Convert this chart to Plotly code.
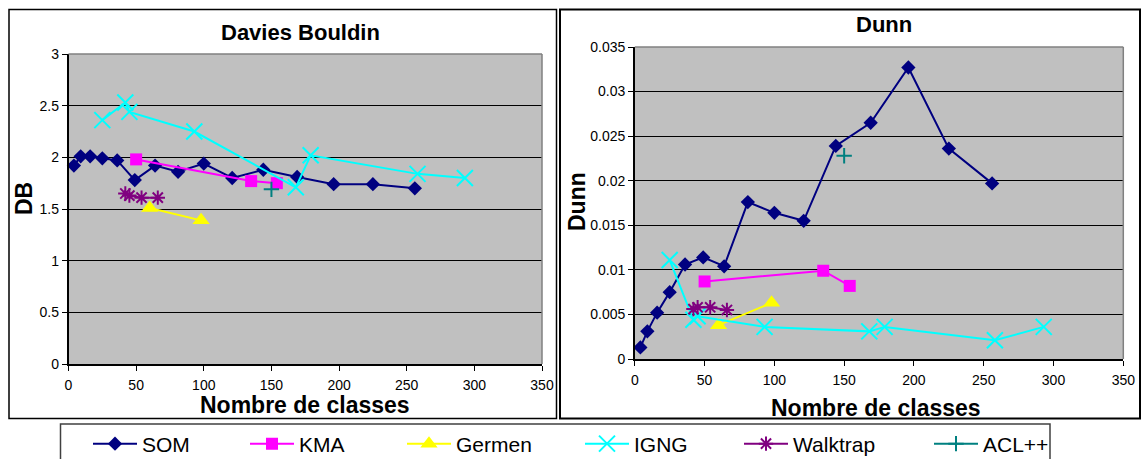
import plotly.graph_objects as go

# ---------------- data ----------------
x_som = [4, 9, 16, 25, 36, 49, 64, 81, 100, 121, 144, 169, 196, 225, 256]
db_som = [1.92, 2.01, 2.01, 1.99, 1.97, 1.78, 1.92, 1.86, 1.94, 1.80, 1.88, 1.81, 1.74, 1.74, 1.70]
dunn_som = [0.0013, 0.0031, 0.0052, 0.0075, 0.0106, 0.0114, 0.0104, 0.0176, 0.0164,
            0.0155, 0.0239, 0.0265, 0.0327, 0.0236, 0.0197]

x_kma = [50, 135, 154]
db_kma = [1.98, 1.77, 1.75]
dunn_kma = [0.0087, 0.0099, 0.0082]

x_germen = [60, 98]
db_germen = [1.51, 1.39]
dunn_germen = [0.0038, 0.0063]

x_igng = [25, 42, 45, 93, 168, 179, 258, 293]
db_igng = [2.36, 2.53, 2.44, 2.25, 1.71, 2.02, 1.84, 1.80]
dunn_igng = [0.0111, 0.0044, 0.0048, 0.0036, 0.0031, 0.0036, 0.0021, 0.0036]

x_walktrap = [42, 45, 54, 66]
db_walktrap = [1.65, 1.63, 1.61, 1.61]
dunn_walktrap = [0.0056, 0.0058, 0.0058, 0.0055]

x_acl = [150]
db_acl = [1.69]
dunn_acl = [0.0228]

names = ["SOM", "KMA", "Germen", "IGNG", "Walktrap", "ACL++"]
x_ticks = [0, 50, 100, 150, 200, 250, 300, 350]
db_ticks = [0, 0.5, 1, 1.5, 2, 2.5, 3]
dunn_ticks = [0, 0.005, 0.01, 0.015, 0.02, 0.025, 0.03, 0.035]
dunn_tick_text = ["0", "0.005", "0.01", "0.015", "0.02", "0.025", "0.03", "0.035"]

# ---------------- layout helpers ----------------
W, H = 1141, 459


def px(v):
    return v / W


def py(v):
    return 1 - v / H


FONT = "Liberation Sans, Arial, sans-serif"

styles = {
    "SOM": dict(color="#000080", symbol="diamond", size=11, lw=2, mlw=0),
    "KMA": dict(color="#FF00FF", symbol="square", size=12, lw=2, mlw=0),
    "Germen": dict(color="#FFFF00", symbol="triangle-up", size=15, lw=2, mlw=0),
    "IGNG": dict(color="#00FFFF", symbol="x-thin-open", size=16, lw=2, mlw=2),
    "Walktrap": dict(color="#800080", symbol="asterisk-open", size=12, lw=2, mlw=2),
    "ACL++": dict(color="#008080", symbol="cross-thin-open", size=11, lw=2, mlw=2),
}

data = {
    "SOM": (x_som, db_som, dunn_som),
    "KMA": (x_kma, db_kma, dunn_kma),
    "Germen": (x_germen, db_germen, dunn_germen),
    "IGNG": (x_igng, db_igng, dunn_igng),
    "Walktrap": (x_walktrap, db_walktrap, dunn_walktrap),
    "ACL++": (x_acl, db_acl, dunn_acl),
}

legend_text_start = {"SOM": 135, "KMA": 292, "Germen": 449, "IGNG": 627, "Walktrap": 786, "ACL++": 976}
legend_ids = ["legend", "legend2", "legend3", "legend4", "legend5", "legend6"]

fig = go.Figure()
for i, name in enumerate(names):
    st = styles[name]
    xs, dbv, dnv = data[name]
    mk = dict(symbol=st["symbol"], size=st["size"], color=st["color"],
              line=dict(width=st["mlw"], color=st["color"]))
    fig.add_trace(go.Scatter(x=xs, y=dbv, name=name, mode="lines+markers",
                             line=dict(color=st["color"], width=st["lw"]),
                             marker=mk, xaxis="x", yaxis="y",
                             legend=legend_ids[i], showlegend=True, cliponaxis=False))
    fig.add_trace(go.Scatter(x=xs, y=dnv, name=name, mode="lines+markers",
                             line=dict(color=st["color"], width=st["lw"]),
                             marker=mk, xaxis="x2", yaxis="y2",
                             showlegend=False, cliponaxis=False))

axis_common = dict(showline=True, linecolor="black", linewidth=1.5, ticks="outside",
                   ticklen=5, tickcolor="black", tickwidth=1, zeroline=False,
                   tickfont=dict(family=FONT, size=14, color="black"), fixedrange=True)

layout = dict(
    width=W, height=H, margin=dict(l=0, r=0, t=0, b=0, pad=0, autoexpand=False),
    paper_bgcolor="white", plot_bgcolor="#C0C0C0",
    font=dict(family=FONT, color="black"),
    xaxis=dict(domain=[px(68.5), px(542)], range=[0, 350], tickvals=x_ticks,
               showgrid=False, anchor="y", ticklabelstandoff=2, **axis_common),
    yaxis=dict(domain=[py(364), py(54)], range=[0, 3], tickvals=db_ticks,
               showgrid=True, gridcolor="black", gridwidth=1, anchor="x", **axis_common),
    xaxis2=dict(domain=[px(634.8), px(1123.3)], range=[0, 350], tickvals=x_ticks,
                showgrid=False, anchor="y2", ticklabelstandoff=2, **axis_common),
    yaxis2=dict(domain=[py(359), py(47)], range=[0, 0.035], tickvals=dunn_ticks,
                ticktext=dunn_tick_text, showgrid=True, gridcolor="black", gridwidth=1,
                anchor="x2", **axis_common),
)

for i, name in enumerate(names):
    layout[legend_ids[i]] = dict(
        x=px(legend_text_start[name] - 47), y=py(444), xanchor="left", yanchor="middle",
        orientation="h", bgcolor="rgba(0,0,0,0)", borderwidth=0, itemwidth=44,
        font=dict(family=FONT, size=21, color="black"), itemclick=False, itemdoubleclick=False)

fig.update_layout(**layout)

# plot-area frames (grey top/right edges, Excel style)
for (l, r, t, b) in ((68.5, 542, 54, 364), (634.8, 1123.3, 47, 359)):
    fig.add_shape(type="line", xref="paper", yref="paper", x0=px(l), x1=px(r),
                  y0=py(t), y1=py(t), line=dict(color="#808080", width=1.5))
    fig.add_shape(type="line", xref="paper", yref="paper", x0=px(r), x1=px(r),
                  y0=py(t), y1=py(b), line=dict(color="#808080", width=1.5))

# panel borders
fig.add_shape(type="rect", xref="paper", yref="paper", x0=px(9), x1=px(556.5),
              y0=py(418.5), y1=py(9.5), line=dict(color="black", width=1.5))
fig.add_shape(type="rect", xref="paper", yref="paper", x0=px(560), x1=px(1140),
              y0=py(418.5), y1=py(9.5), line=dict(color="black", width=2))
# legend frame (runs off the bottom edge, as in the reference)
fig.add_shape(type="rect", xref="paper", yref="paper", x0=px(60.5), x1=px(1050),
              y0=py(470), y1=py(424), line=dict(color="#404040", width=1.5))

annots = [
    dict(text="<b>Davies Bouldin</b>", x=px(300), y=py(32), size=22, angle=0),
    dict(text="<b>Dunn</b>", x=px(884), y=py(24), size=22, angle=0),
    dict(text="<b>DB</b>", x=px(24), y=py(199), size=23, angle=-90),
    dict(text="<b>Dunn</b>", x=px(577), y=py(202), size=23, angle=-90),
    dict(text="<b>Nombre de classes</b>", x=px(304.5), y=py(405), size=23, angle=0),
    dict(text="<b>Nombre de classes</b>", x=px(876), y=py(408), size=23, angle=0),
]
for a in annots:
    fig.add_annotation(text=a["text"], x=a["x"], y=a["y"], xref="paper", yref="paper",
                       xanchor="center", yanchor="middle", showarrow=False,
                       textangle=a["angle"], font=dict(family=FONT, size=a["size"], color="black"))

fig.write_html("out.html", config={"displayModeBar": False},
               post_script="document.body.style.margin='0';")
